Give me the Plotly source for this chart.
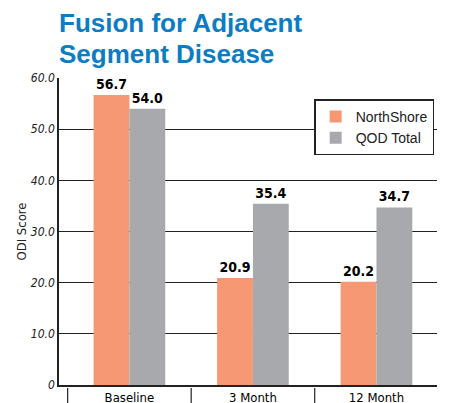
import plotly.graph_objects as go

CATEGORIES = ["Baseline", "3 Month", "12 Month"]
NORTHSHORE = [56.7, 20.9, 20.2]
QOD_TOTAL = [54.0, 35.4, 34.7]
Y_TICKS = [0, 10, 20, 30, 40, 50, 60]
Y_TICK_TEXT = ["0", "10.0", "20.0", "30.0", "40.0", "50.0", "60.0"]
TITLE_LINES = ["Fusion for Adjacent", "Segment Disease"]

ORANGE = "#F59873"
GREY = "#A8A9AD"
TITLE_BLUE = "#0A7DC4"
NARROW = "DejaVu Sans Condensed, Liberation Sans Narrow, Liberation Sans, sans-serif"
SANS = "Liberation Sans, Arial, sans-serif"

fig = go.Figure()
for name, vals, color in (("NorthShore", NORTHSHORE, ORANGE), ("QOD Total", QOD_TOTAL, GREY)):
    fig.add_trace(go.Bar(
        x=CATEGORIES, y=vals, name=name, marker=dict(color=color, line=dict(width=0)),
        text=[f"<b>{v:.1f}</b>" for v in vals], textposition="outside",
        textfont=dict(family=NARROW, size=14, color="black"), cliponaxis=False,
    ))

# category dividers under the axis
for xv in (-0.5, 0.5, 1.5, 2.5):
    fig.add_shape(type="line", xref="x", yref="paper", x0=xv, x1=xv, y0=-0.01, y1=-0.08,
                  line=dict(color="#222", width=1.2))

# two-line title, placed line by line to get the tight leading
for line, ypos in zip(TITLE_LINES, (1.2345, 1.1336)):
    fig.add_annotation(
        text=f"<b>{line}</b>", xref="paper", yref="paper",
        x=-0.005, y=ypos, xanchor="left", yanchor="top", showarrow=False, align="left",
        font=dict(family=SANS, size=26, color=TITLE_BLUE),
    )

# page body adds an 8px offset, so the figure is sized 8px smaller
fig.update_layout(
    width=445, height=395,
    margin=dict(l=51, r=16, t=70, b=18, autoexpand=False),
    barmode="group", bargap=0.42, bargroupgap=0,
    plot_bgcolor="white", paper_bgcolor="white",
    showlegend=True,
    legend=dict(x=0.675, y=0.93, xanchor="left", yanchor="top", bgcolor="white",
                bordercolor="#222", borderwidth=1.5, traceorder="normal",
                font=dict(family=SANS, size=14, color="#222")),
    font=dict(family=NARROW, color="#222"),
)
fig.update_xaxes(
    range=[-0.57, 2.49], showline=True, linecolor="#222", linewidth=1.5,
    ticks="", tickfont=dict(family=NARROW, size=13, color="black"), ticklabelstandoff=0,
    showgrid=False,
)
fig.update_yaxes(
    range=[0, 60], tickvals=Y_TICKS, ticktext=Y_TICK_TEXT,
    showline=True, linecolor="#222", linewidth=1.5,
    showgrid=True, gridcolor="#222", gridwidth=1.2, zeroline=False,
    tickfont=dict(family=NARROW, size=12, color="#222", style="italic"),
    title=dict(text="ODI Score", font=dict(family=NARROW, size=13, color="#222"), standoff=1),
)
fig.write_html("out.html")
